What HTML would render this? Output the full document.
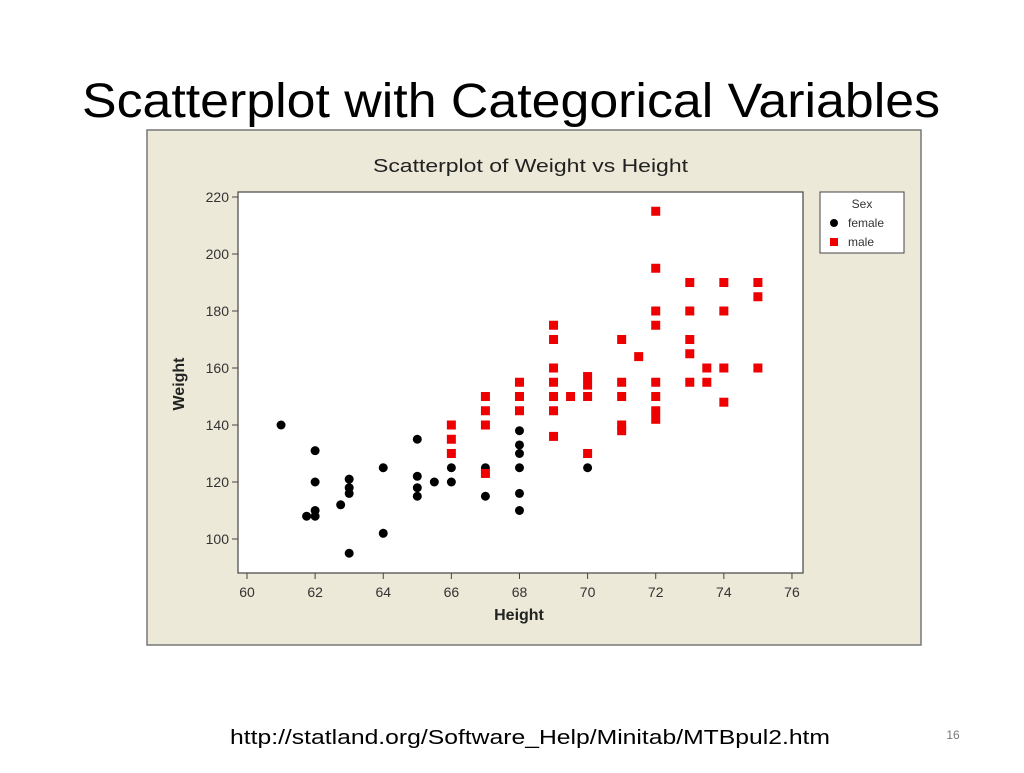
<!DOCTYPE html>
<html><head><meta charset="utf-8"><style>
body{margin:0;background:#fff;width:1024px;height:768px;overflow:hidden;font-family:"Liberation Sans",sans-serif}
</style></head><body>
<svg id="s" width="1024" height="768" xmlns="http://www.w3.org/2000/svg" font-family="Liberation Sans, sans-serif">
<text x="82" y="117" font-size="48" fill="#000" textLength="858" lengthAdjust="spacingAndGlyphs">Scatterplot with Categorical Variables</text>
<rect x="147" y="130" width="774" height="515" fill="#ece9d8" stroke="#777" stroke-width="1.5"/>
<text x="373" y="172" font-size="18" fill="#222" textLength="315" lengthAdjust="spacingAndGlyphs">Scatterplot of Weight vs Height</text>
<rect x="238" y="192" width="565" height="381" fill="#fff" stroke="#444" stroke-width="1.2"/>
<g id="ticks" stroke="#444" stroke-width="1"></g>
<g id="lbl" font-size="14" fill="#333"></g>
<text x="519" y="620" text-anchor="middle" font-size="16" font-weight="bold" fill="#222">Height</text>
<text transform="translate(184,384) rotate(-90)" text-anchor="middle" font-size="16" font-weight="bold" fill="#222">Weight</text>
<rect x="820" y="192" width="84" height="61" fill="#fff" stroke="#444"/>
<text x="862" y="208" text-anchor="middle" font-size="12" fill="#333">Sex</text>
<circle cx="834" cy="223" r="4" fill="#000"/>
<text x="848" y="227" font-size="12" fill="#333">female</text>
<rect x="830" y="238" width="8" height="8" fill="#e00"/>
<text x="848" y="246" font-size="12" fill="#333">male</text>
<g id="pts"></g>
<text x="230" y="744" font-size="20" fill="#000" textLength="600" lengthAdjust="spacingAndGlyphs">http://statland.org/Software_Help/Minitab/MTBpul2.htm</text>
<text x="953" y="739" text-anchor="middle" font-size="12" fill="#777">16</text>
</svg>
<script>
var NS="http://www.w3.org/2000/svg";
function X(h){return 247+(h-60)*34.06}
function Y(w){return 539-(w-100)*2.85}
function el(t,a,p){var e=document.createElementNS(NS,t);for(var k in a)e.setAttribute(k,a[k]);document.getElementById(p).appendChild(e);return e}
for(var h=60;h<=76;h+=2){var x=X(h);el('line',{x1:x,x2:x,y1:573,y2:579},'ticks');var t=el('text',{x:x,y:597,'text-anchor':'middle'},'lbl');t.textContent=h;}
for(var w=100;w<=220;w+=20){var y=Y(w);el('line',{x1:232,x2:238,y1:y,y2:y},'ticks');var t=el('text',{x:229,y:y+5,'text-anchor':'end'},'lbl');t.textContent=w;}
var F=[[61,140],[62,131],[62,120],[62,110],[62,108],[61.75,108],[62.75,112],[63,121],[63,118],[63,116],[63,95],[64,125],[64,102],[65,135],[65,122],[65,118],[65,115],[65.5,120],[66,125],[66,120],[67,125],[67,115],[68,138],[68,133],[68,130],[68,125],[68,116],[68,110],[70,125]];
var M=[[66,140],[66,135],[66,130],[67,150],[67,145],[67,140],[67,123],[68,155],[68,150],[68,145],[69,175],[69,170],[69,160],[69,155],[69,150],[69,145],[69,136],[69.5,150],[70,157],[70,154],[70,150],[70,130],[71,170],[71,155],[71,150],[71,140],[71,138],[71.5,164],[72,215],[72,195],[72,180],[72,175],[72,155],[72,150],[72,145],[72,142],[73,190],[73,180],[73,170],[73,165],[73,155],[73.5,160],[73.5,155],[74,190],[74,180],[74,160],[74,148],[75,190],[75,185],[75,160]];
F.forEach(function(p){el('circle',{cx:X(p[0]),cy:Y(p[1]),r:4.5,fill:'#000'},'pts')});
M.forEach(function(p){el('rect',{x:X(p[0])-4.5,y:Y(p[1])-4.5,width:9,height:9,fill:'#e00'},'pts')});
</script>
</body></html>
